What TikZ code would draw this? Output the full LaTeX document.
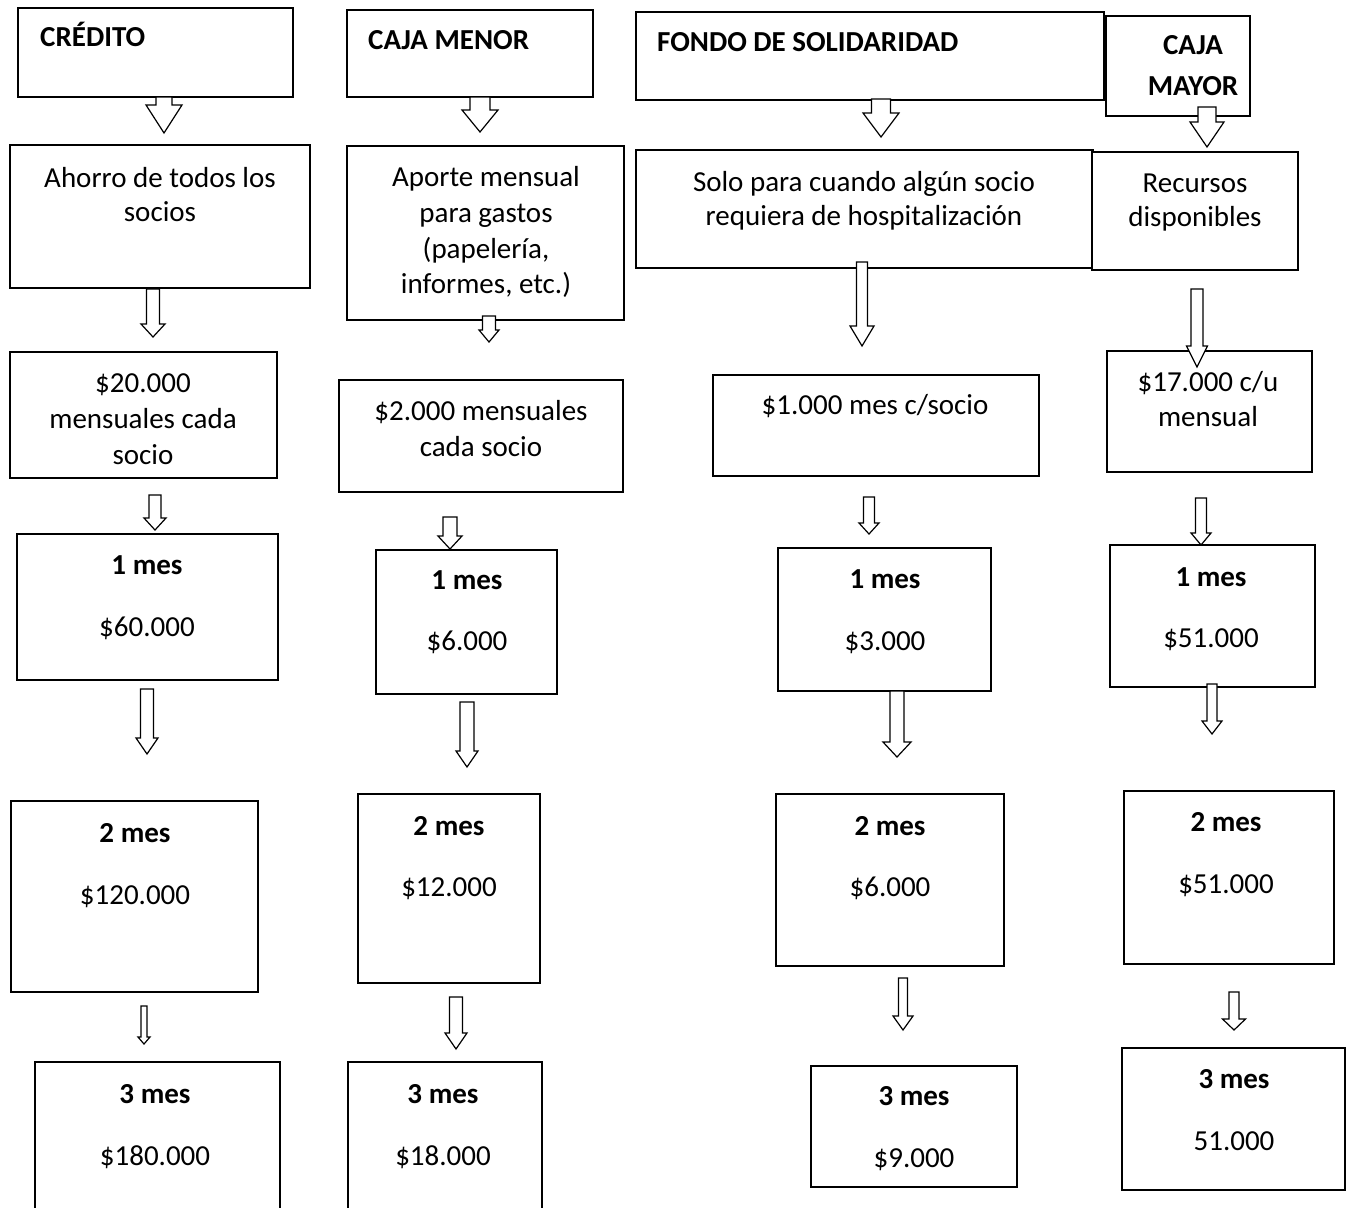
\documentclass[tikz,border=0pt]{standalone}
\usepackage{fontspec}
\setmainfont{Carlito}
\usetikzlibrary{fit,calc}
\tikzset{
  box/.style={draw, line width=1.5pt, inner sep=0pt, fill=white},
  txt/.style={inner sep=0pt, anchor=base, font=\fontsize{29}{35}\selectfont},
  boldtxt/.style={txt, font=\fontsize{29}{35}\selectfont\bfseries},
  lefttxt/.style={boldtxt, anchor=base west},
  blockarr/.style={draw, fill=white, line width=1.2pt, line join=miter}
}
% #1 start coord, #2 tip coord, #3 shaft half width, #4 head half width, #5 head length
\newcommand\blockarrow[5]{%
  \draw[blockarr] let \p1=(#1), \p2=(#2) in
    (\x1-#3pt,\y1) -- (\x1+#3pt,\y1) -- (\x1+#3pt,\y2+#5pt) -- (\x1+#4pt,\y2+#5pt)
    -- (\x1,\y2) -- (\x1-#4pt,\y2+#5pt) -- (\x1-#3pt,\y2+#5pt) -- cycle;}
\newcommand\mkbox[5]{\node[box, fit={(#2,#3) (#4,#5)}] (#1) {};}
\begin{document}
\begin{tikzpicture}[x=1pt,y=-1pt]
\useasboundingbox (0,0) rectangle (1351,1207);
\clip (0,0) rectangle (1351,1207);
\fill[white] (0,0) rectangle (1351,1207);

% ---------- Column 1: CREDITO ----------
\mkbox{a1}{18}{8}{293}{97}
\mkbox{b1}{10}{145}{310}{288}
\mkbox{c1}{10}{352}{277}{478}
\mkbox{d1}{17}{534}{278}{680}
\mkbox{e1}{11}{801}{258}{992}
\mkbox{f1}{35}{1062}{280}{1230}
\node[lefttxt] (a1t) at (40,47) {CRÉDITO};
\node[txt] (b1t1) at (160,187) {Ahorro de todos los};
\node[txt] (b1t2) at (160,221) {socios};
\node[txt] (c1t1) at (143,392) {\$20.000};
\node[txt] (c1t2) at (143,428) {mensuales cada};
\node[txt] (c1t3) at (143,464) {socio};
\node[boldtxt] (d1t1) at (147,574) {1 mes};
\node[txt] (d1t2) at (147,636) {\$60.000};
\node[boldtxt] (e1t1) at (135,842) {2 mes};
\node[txt] (e1t2) at (135,904) {\$120.000};
\node[boldtxt] (f1t1) at (155,1103) {3 mes};
\node[txt] (f1t2) at (155,1165) {\$180.000};

% ---------- Column 2: CAJA MENOR ----------
\mkbox{a2}{347}{10}{593}{97}
\mkbox{b2}{347}{146}{624}{320}
\mkbox{c2}{339}{380}{623}{492}
\mkbox{d2}{376}{550}{557}{694}
\mkbox{e2}{358}{794}{540}{983}
\mkbox{f2}{348}{1062}{542}{1230}
\node[lefttxt] (a2t) at (368,50) {CAJA MENOR};
\node[txt] (b2t1) at (486,186) {Aporte mensual};
\node[txt] (b2t2) at (486,222) {para gastos};
\node[txt] (b2t3) at (486,258) {(papelería,};
\node[txt] (b2t4) at (486,293) {informes, etc.)};
\node[txt] (c2t1) at (481,420) {\$2.000 mensuales};
\node[txt] (c2t2) at (481,456) {cada socio};
\node[boldtxt] (d2t1) at (467,589) {1 mes};
\node[txt] (d2t2) at (467,650) {\$6.000};
\node[boldtxt] (e2t1) at (449,835) {2 mes};
\node[txt] (e2t2) at (449,896) {\$12.000};
\node[boldtxt] (f2t1) at (443,1103) {3 mes};
\node[txt] (f2t2) at (443,1165) {\$18.000};

% ---------- Column 3: FONDO DE SOLIDARIDAD ----------
\mkbox{a3}{636}{12}{1104}{100}
\mkbox{b3}{636}{150}{1093}{268}
\mkbox{c3}{713}{375}{1039}{476}
\mkbox{d3}{778}{548}{991}{691}
\mkbox{e3}{776}{794}{1004}{966}
\mkbox{f3}{811}{1066}{1017}{1187}
\node[lefttxt] (a3t) at (657,52) {FONDO DE SOLIDARIDAD};
\node[txt] (b3t1) at (864,191) {Solo para cuando algún socio};
\node[txt] (b3t2) at (864,225) {requiera de hospitalización};
\node[txt] (c3t1) at (875,414) {\$1.000 mes c/socio};
\node[boldtxt] (d3t1) at (885,588) {1 mes};
\node[txt] (d3t2) at (885,650) {\$3.000};
\node[boldtxt] (e3t1) at (890,835) {2 mes};
\node[txt] (e3t2) at (890,896) {\$6.000};
\node[boldtxt] (f3t1) at (914,1105) {3 mes};
\node[txt] (f3t2) at (914,1167) {\$9.000};

% ---------- Column 4: CAJA MAYOR ----------
\mkbox{a4}{1106}{16}{1250}{116}
\mkbox{b4}{1092}{152}{1298}{270}
\mkbox{c4}{1107}{351}{1312}{472}
\mkbox{d4}{1110}{545}{1315}{687}
\mkbox{e4}{1124}{791}{1334}{964}
\mkbox{f4}{1122}{1048}{1345}{1190}
\node[boldtxt] (a4t1) at (1193,55) {CAJA};
\node[boldtxt] (a4t2) at (1193,95) {MAYOR};
\node[txt] (b4t1) at (1195,192) {Recursos};
\node[txt] (b4t2) at (1195,226) {disponibles};
\node[txt] (c4t1) at (1208,391) {\$17.000 c/u};
\node[txt] (c4t2) at (1208,426) {mensual};
\node[boldtxt] (d4t1) at (1211,586) {1 mes};
\node[txt] (d4t2) at (1211,647) {\$51.000};
\node[boldtxt] (e4t1) at (1226,831) {2 mes};
\node[txt] (e4t2) at (1226,893) {\$51.000};
\node[boldtxt] (f4t1) at (1234,1088) {3 mes};
\node[txt] (f4t2) at (1234,1150) {51.000};

% ---------- Arrow end points ----------
\coordinate (s11) at (164,97);   \coordinate (t11) at (164,133);
\coordinate (s12) at (153,289);  \coordinate (t12) at (153,337);
\coordinate (s13) at (155,495);  \coordinate (t13) at (155,530);
\coordinate (s14) at (147,689);  \coordinate (t14) at (147,754);
\coordinate (s15) at (144,1006); \coordinate (t15) at (144,1044);

\coordinate (s21) at (480,97);   \coordinate (t21) at (480,132);
\coordinate (s22) at (489,316);  \coordinate (t22) at (489,342);
\coordinate (s23) at (450,517);  \coordinate (t23) at (450,549);
\coordinate (s24) at (467,702);  \coordinate (t24) at (467,767);
\coordinate (s25) at (456,997);  \coordinate (t25) at (456,1049);

\coordinate (s31) at (881,99);   \coordinate (t31) at (881,137);
\coordinate (s32) at (862,262);  \coordinate (t32) at (862,346);
\coordinate (s33) at (869,497);  \coordinate (t33) at (869,534);
\coordinate (s34) at (897,691);  \coordinate (t34) at (897,757);
\coordinate (s35) at (903,978);  \coordinate (t35) at (903,1030);

\coordinate (s41) at (1207,107); \coordinate (t41) at (1207,147);
\coordinate (s42) at (1197,289); \coordinate (t42) at (1197,367);
\coordinate (s43) at (1201,498); \coordinate (t43) at (1201,545);
\coordinate (s44) at (1212,684); \coordinate (t44) at (1212,734);
\coordinate (s45) at (1234,992); \coordinate (t45) at (1234,1030);

% ---------- Block arrows ----------
\blockarrow{s11}{t11}{8}{18}{28}
\blockarrow{s12}{t12}{6.5}{12}{13}
\blockarrow{s13}{t13}{6}{11}{12}
\blockarrow{s14}{t14}{6.5}{11}{16}
\blockarrow{s15}{t15}{3}{6}{7}

\blockarrow{s21}{t21}{10}{18}{22}
\blockarrow{s22}{t22}{6.5}{10}{12}
\blockarrow{s23}{t23}{7}{12}{13}
\blockarrow{s24}{t24}{7}{11}{16}
\blockarrow{s25}{t25}{6.5}{11}{16}

\blockarrow{s31}{t31}{9.5}{18}{24}
\blockarrow{s32}{t32}{5.5}{12}{20}
\blockarrow{s33}{t33}{5.5}{10}{11}
\blockarrow{s34}{t34}{7}{14}{15}
\blockarrow{s35}{t35}{4.5}{10}{14}

\blockarrow{s41}{t41}{9}{17}{25}
\blockarrow{s42}{t42}{6}{10.5}{21}
\blockarrow{s43}{t43}{5.5}{10}{12}
\blockarrow{s44}{t44}{5}{10}{13}
\blockarrow{s45}{t45}{5}{11.5}{11}
\end{tikzpicture}
\end{document}
